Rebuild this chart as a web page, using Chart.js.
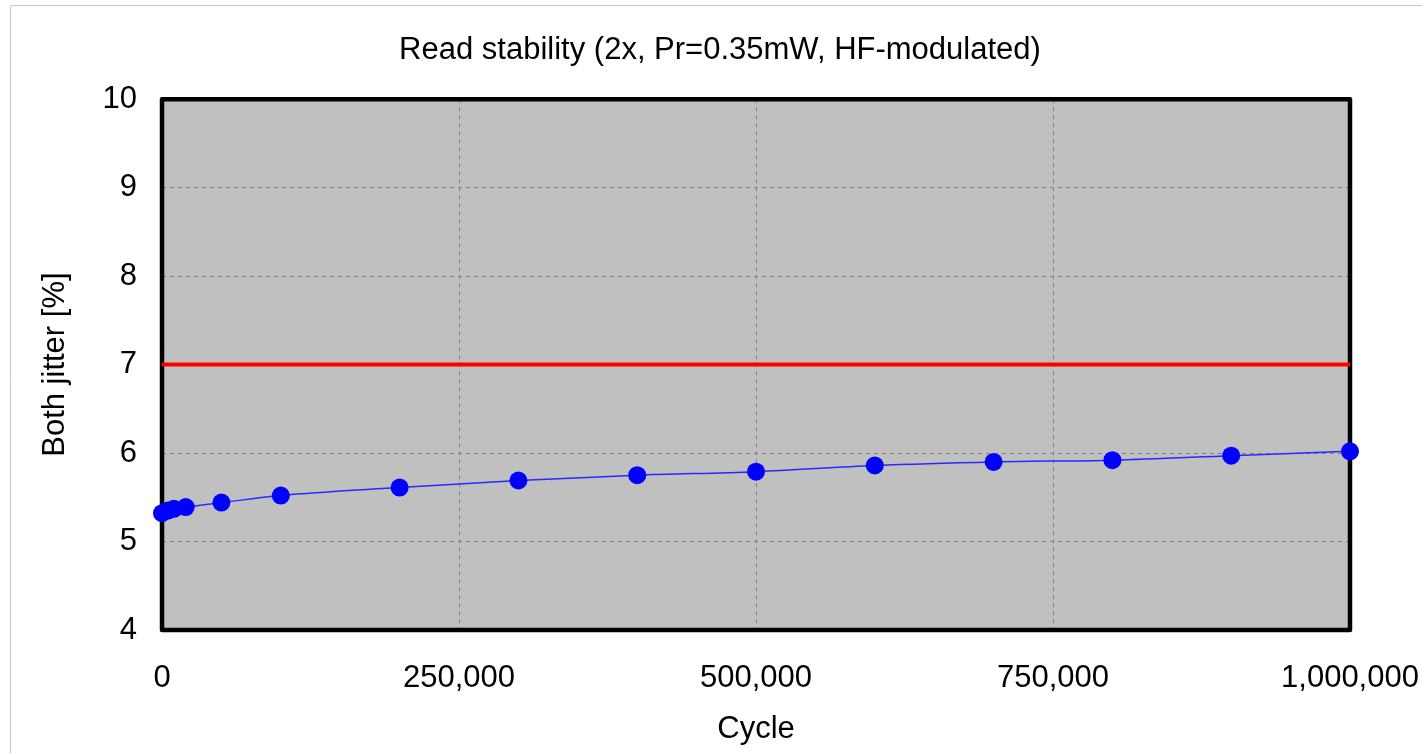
<!DOCTYPE html>
<html>
<head>
<meta charset="utf-8">
<script src="https://cdn.jsdelivr.net/npm/chart.js@4.4.0/dist/chart.umd.min.js"></script>
<style>
  html, body { margin: 0; padding: 0; background: #fff; }
  #wrap { width: 1422px; height: 753px; position: relative; }
</style>
</head>
<body>
<div id="wrap"><canvas id="chart"></canvas></div>
<script>
// данные
const cycles = [0, 5000, 10000, 20000, 50000, 100000, 200000, 300000, 400000, 500000, 600000, 700000, 800000, 900000, 1000000];
const jitter = [5.32, 5.35, 5.37, 5.39, 5.44, 5.52, 5.61, 5.69, 5.75, 5.79, 5.86, 5.90, 5.92, 5.97, 6.02];
const limitX = [0, 1000000]; // красная граница
const limitY = [7, 7];
const xTicks = [0, 250000, 500000, 750000, 1000000];
const yTicks = [4, 5, 6, 7, 8, 9, 10];

const FONT = "'Liberation Sans', Arial, sans-serif";

const framePlugin = { // фон области, рамка и внешняя серая линия
    id: 'frame',
    beforeDraw(chart) {
        const { ctx, chartArea: a } = chart;
        ctx.save();
        ctx.strokeStyle = '#c8c8c8';
        ctx.lineWidth = 1;
        ctx.beginPath();
        ctx.moveTo(10.5, 753);
        ctx.lineTo(10.5, 5.5);
        ctx.lineTo(1422, 5.5);
        ctx.stroke();
        ctx.fillStyle = '#c0c0c0';
        ctx.fillRect(a.left, a.top, a.right - a.left, a.bottom - a.top);
        ctx.restore();
    },
    beforeDatasetsDraw(chart) {
        const { ctx, chartArea: a } = chart;
        ctx.save();
        ctx.strokeStyle = '#000';
        ctx.lineWidth = 4.5;
        ctx.lineJoin = 'round';
        ctx.strokeRect(a.left, a.top, a.right - a.left, a.bottom - a.top);
        ctx.restore();
    }
};

new Chart(document.getElementById('chart'), {
    type: 'scatter',
    data: {
        datasets: [
            {
                label: 'limit',
                data: limitX.map((x, i) => ({ x, y: limitY[i] })),
                showLine: true,
                borderColor: '#ff0000',
                borderWidth: 4,
                pointRadius: 0,
                clip: false,
            },
            {
                label: 'jitter',
                data: cycles.map((x, i) => ({ x, y: jitter[i] })),
                showLine: true,
                borderColor: '#2828ff',
                borderWidth: 1.5,
                cubicInterpolationMode: 'monotone',
                backgroundColor: '#0000ff',
                pointBackgroundColor: '#0000ff',
                pointBorderColor: '#0000ff',
                pointRadius: 9,
                pointBorderWidth: 0,
                clip: false,
            },
        ],
    },
    options: {
        responsive: true,
        maintainAspectRatio: false,
        animation: false,
        layout: { padding: { left: 18, right: 0, top: 0, bottom: 0 } },
        plugins: {
            legend: { display: false },
            tooltip: { enabled: false },
            title: {
                display: true,
                text: 'Read stability (2x, Pr=0.35mW, HF-modulated)',
                color: '#000',
                font: { family: FONT, size: 31, weight: 'normal' },
                padding: { top: 32, bottom: 30 },
            },
        },
        scales: {
            x: {
                type: 'linear',
                min: 0,
                max: 1000000,
                afterFit: (s) => { s.height = 123; s.paddingLeft = 0; s.paddingRight = 0; },
                afterBuildTicks: (s) => { s.ticks = xTicks.map(v => ({ value: v })); },
                ticks: {
                    color: '#000',
                    font: { family: FONT, size: 31 },
                    padding: 30,
                    maxRotation: 0,
                    callback: (v) => Number(v).toLocaleString('en-US'),
                },
                grid: {
                    color: '#808080',
                    lineWidth: 1,
                    drawTicks: false,
                },
                border: { display: false, dash: [4, 4] },
                title: {
                    display: true,
                    text: 'Cycle',
                    color: '#000',
                    font: { family: FONT, size: 31 },
                    padding: { top: 0, bottom: 5 },
                },
            },
            y: {
                min: 4,
                max: 10,
                afterFit: (s) => { s.width = 144; },
                afterBuildTicks: (s) => { s.ticks = yTicks.map(v => ({ value: v })); },
                ticks: {
                    color: '#000',
                    font: { family: FONT, size: 31 },
                    padding: 25,
                },
                grid: {
                    color: '#808080',
                    lineWidth: 1,
                    drawTicks: false,
                },
                border: { display: false, dash: [4, 4] },
                title: {
                    display: true,
                    text: 'Both jitter [%]',
                    color: '#000',
                    font: { family: FONT, size: 31 },
                    padding: { top: 19, bottom: 0 },
                },
            },
            yRight: { // пустая ось справа, держит отступ под подписью 1,000,000
                position: 'right',
                min: 4,
                max: 10,
                afterFit: (s) => { s.width = 72; },
                ticks: { display: false },
                grid: { display: false },
                border: { display: false },
            },
        },
    },
    plugins: [framePlugin],
});
</script>
</body>
</html>
